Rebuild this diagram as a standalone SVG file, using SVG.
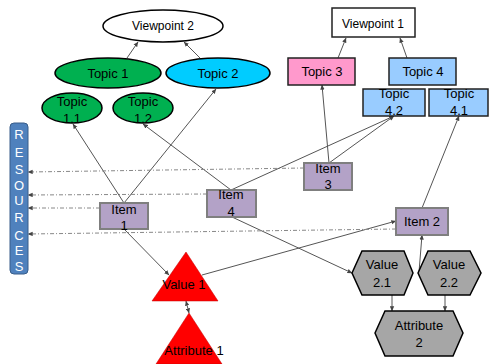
<svg xmlns="http://www.w3.org/2000/svg" width="489" height="364" viewBox="0 0 489 364">
<defs>
<marker id="ah" viewBox="0 0 8 8" refX="7.5" refY="4" markerWidth="5" markerHeight="5" orient="auto-start-reverse" markerUnits="userSpaceOnUse">
<path d="M0,0.5 L8,4 L0,7.5 z" fill="#444"/>
</marker>
<style>
text{font-family:"Liberation Sans",Arial,sans-serif;font-size:13px;fill:#000;text-anchor:middle}
.c{fill:none;stroke:#555;stroke-width:1}
.d{fill:none;stroke:#888;stroke-width:1;stroke-dasharray:4 2 1 2}
.ell{stroke:#000;stroke-width:1.5}
.box{stroke:#222;stroke-width:1.5}
.item{fill:#B3A2C7;stroke:#7F7F7F;stroke-width:2}
.hex{fill:#A6A6A6;stroke:#000;stroke-width:1.5}
.tri{fill:#FF0000;stroke:#C00000;stroke-width:0.5}
.res{fill:#fff;font-size:13px}
.v{font-size:12px}
</style>
</defs>
<rect width="489" height="364" fill="#fff"/>
<g id="connectors">
<line class="c" x1="127" y1="58" x2="138" y2="42" marker-end="url(#ah)"/>
<line class="c" x1="200" y1="58" x2="184" y2="42" marker-end="url(#ah)"/>
<line class="c" x1="338" y1="58" x2="346" y2="38" marker-end="url(#ah)"/>
<line class="c" x1="407" y1="58" x2="400" y2="38" marker-end="url(#ah)"/>
<line class="c" x1="124" y1="203" x2="73" y2="124" marker-end="url(#ah)"/>
<line class="c" x1="124" y1="203" x2="216" y2="89" marker-end="url(#ah)"/>
<line class="c" x1="231" y1="190" x2="143" y2="124" marker-end="url(#ah)"/>
<line class="c" x1="231" y1="190" x2="394" y2="116" marker-end="url(#ah)"/>
<line class="c" x1="329" y1="163" x2="322" y2="85" marker-end="url(#ah)"/>
<line class="c" x1="329" y1="163" x2="394" y2="116" marker-end="url(#ah)"/>
<line class="c" x1="422" y1="208" x2="459" y2="116" marker-end="url(#ah)"/>
<line class="c" x1="202" y1="275" x2="396" y2="221" marker-end="url(#ah)"/>
<line class="c" x1="124" y1="229" x2="169" y2="275" marker-end="url(#ah)"/>
<line class="c" x1="232" y1="217" x2="352" y2="273" marker-end="url(#ah)"/>
<line class="c" x1="419" y1="272" x2="422" y2="235" marker-end="url(#ah)"/>
<line class="c" x1="189" y1="313" x2="186" y2="301" marker-start="url(#ah)" marker-end="url(#ah)"/>
<line class="c" x1="392" y1="295" x2="392" y2="311" marker-end="url(#ah)"/>
<line class="c" x1="445" y1="295" x2="445" y2="311" marker-end="url(#ah)"/>
<line class="d" x1="304" y1="168" x2="28" y2="172" marker-end="url(#ah)"/>
<line class="d" x1="207" y1="194" x2="28" y2="195" marker-end="url(#ah)"/>
<line class="d" x1="100" y1="208" x2="28" y2="208" marker-end="url(#ah)"/>
<line class="d" x1="396" y1="229" x2="28" y2="234" marker-end="url(#ah)"/>
</g>
<g id="viewpoint2"><ellipse class="ell" cx="163" cy="26" rx="60" ry="16" fill="#fff"/><text class="v" x="163" y="30">Viewpoint 2</text></g>
<g id="viewpoint1"><rect class="box" x="332" y="8" width="83" height="29" fill="#fff"/><text class="v" x="373" y="28">Viewpoint 1</text></g>
<g id="topic1"><ellipse class="ell" cx="108" cy="73" rx="53" ry="15" fill="#00B050"/><text x="108" y="78">Topic 1</text></g>
<g id="topic2"><ellipse class="ell" cx="218" cy="73" rx="52" ry="15" fill="#00CCFF"/><text x="218" y="78">Topic 2</text></g>
<g id="topic11"><ellipse class="ell" cx="72" cy="108" rx="30" ry="15" fill="#00B050"/><text x="72" y="106">Topic</text><text x="72" y="123">1.1</text></g>
<g id="topic12"><ellipse class="ell" cx="143" cy="108" rx="30" ry="15" fill="#00B050"/><text x="143" y="106">Topic</text><text x="143" y="123">1.2</text></g>
<g id="topic3"><rect class="box" x="288" y="58" width="67" height="27" fill="#FF99CC"/><text x="322" y="76">Topic 3</text></g>
<g id="topic4"><rect class="box" x="389" y="58" width="67" height="27" fill="#99CCFF"/><text x="423" y="76">Topic 4</text></g>
<g id="topic42"><rect class="box" x="363" y="89" width="62" height="27" fill="#99CCFF"/><text x="394" y="98">Topic</text><text x="394" y="115">4.2</text></g>
<g id="topic41"><rect class="box" x="429" y="89" width="59" height="27" fill="#99CCFF"/><text x="459" y="98">Topic</text><text x="459" y="115">4.1</text></g>
<g id="resources"><rect x="10" y="123" width="18" height="151" rx="4" fill="#4F81BD" stroke="#385D8A" stroke-width="1"/>
<text class="res" x="19" y="139">R</text><text class="res" x="19" y="157">E</text><text class="res" x="19" y="174">S</text><text class="res" x="19" y="190">O</text><text class="res" x="19" y="205">U</text><text class="res" x="19" y="222">R</text><text class="res" x="19" y="240">C</text><text class="res" x="19" y="255">E</text><text class="res" x="19" y="271">S</text></g>
<g id="item1"><rect class="item" x="100" y="203" width="48" height="26"/><text x="124" y="214">Item</text><text x="124" y="230">1</text></g>
<g id="item4"><rect class="item" x="207" y="190" width="49" height="27"/><text x="231" y="199">Item</text><text x="231" y="216">4</text></g>
<g id="item3"><rect class="item" x="304" y="163" width="48" height="27"/><text x="328" y="173">Item</text><text x="328" y="189">3</text></g>
<g id="item2"><rect class="item" x="396" y="208" width="52" height="27"/><text x="422" y="226">Item 2</text></g>
<g id="value1"><polygon class="tri" points="186,252 218,301 152,301"/><text x="184" y="289">Value 1</text></g>
<g id="attribute1"><polygon class="tri" points="189,313 222,364 156,364"/><text x="194" y="355">Attribute 1</text></g>
<g id="value21"><polygon class="hex" points="352,273 362,251 404,251 413,273 404,295 362,295"/><text x="382" y="269">Value</text><text x="382" y="287">2.1</text></g>
<g id="value22"><polygon class="hex" points="418,273 428,251 470,251 481,273 470,295 428,295"/><text x="449" y="269">Value</text><text x="449" y="287">2.2</text></g>
<g id="attribute2"><polygon class="hex" points="375,333 385,311 453,311 463,333 453,356 385,356"/><text x="419" y="330">Attribute</text><text x="419" y="347">2</text></g>
</svg>
